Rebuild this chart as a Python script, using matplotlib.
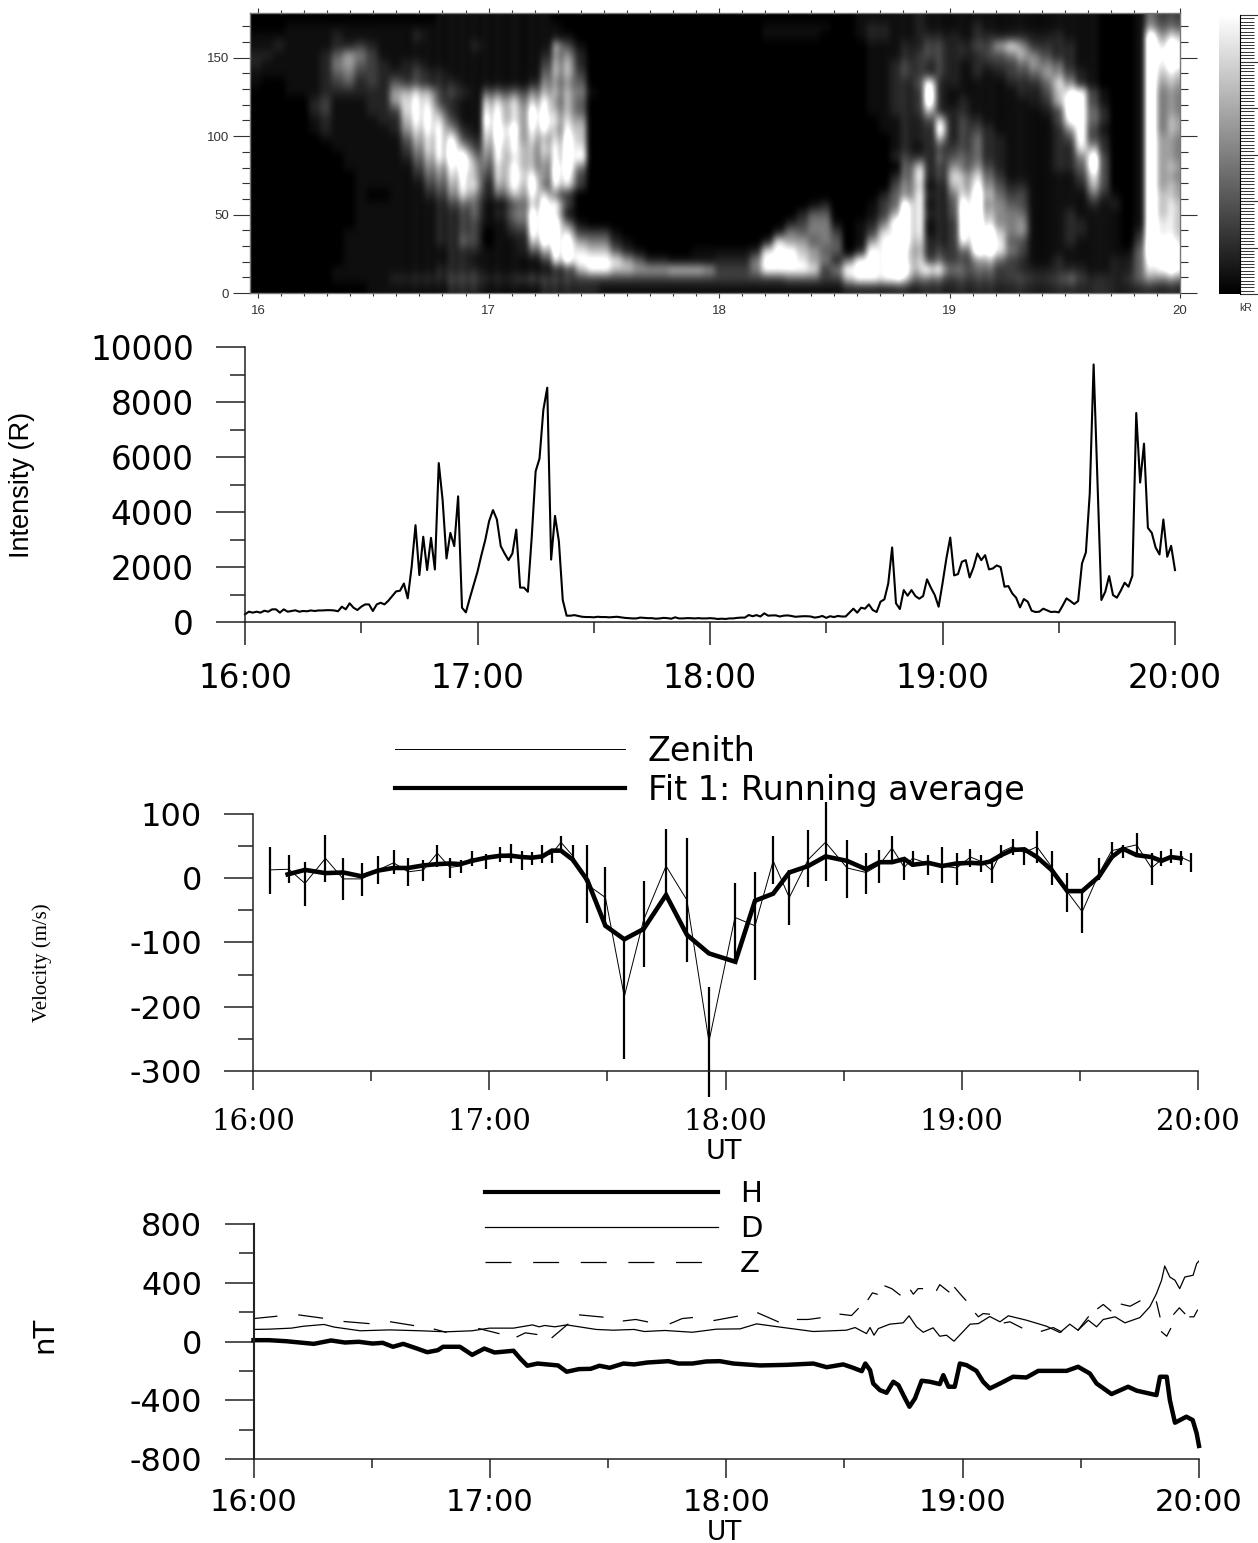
import numpy as np
import matplotlib
matplotlib.use("Agg")
import matplotlib.pyplot as plt
from matplotlib.colors import PowerNorm
from matplotlib.lines import Line2D
from matplotlib.ticker import MultipleLocator

plt.rcParams['axes.unicode_minus'] = False

W, H = 1258, 1543

# keogram brightness, 0-9, top row = 177 deg, columns run 16 -> 20 UT
keogram_rows = [
    "0000000000 0000001111 1111110000 0000000000 0000000000 0011111211 1111111111 1110001433",
    "0001111111 1111111111 1111111000 0000000000 0000111111 0012211211 1121111111 1110001544",
    "1111111211 1111211111 1111111100 0000000000 0000111110 0012211222 2122222222 1110001967",
    "1121111223 2111111112 1111116310 0000000000 0000000000 0001112233 2233785332 2110001989",
    "2211112465 3111111111 1111125520 0000000000 0000000000 0001112333 2223456642 2110001999",
    "2111112564 3212211111 1111136620 0000000000 0000000000 0001123323 2122334764 2110001989",
    "1111112453 3222322111 1111146630 0000000000 0000000000 0001123323 2121233575 3210001977",
    "1001112342 3243322211 1111255540 0000000000 0000000000 0001122482 2111122357 5210001966",
    "0001112222 2267763321 4444566651 0000000000 0000000000 0001122392 1111112246 8931001955",
    "0000023111 2268873211 7776785640 0000000000 0000000000 0001122392 1211111236 9931001955",
    "0000023111 2238885211 8877986640 0000000000 0000000000 0001122362 2211111123 9942001955",
    "0000012111 1227887311 9877997760 0000000000 0000000000 0000112237 2321111113 8942001956",
    "0000012111 1126788521 8997886870 0000000000 0000000000 0000112229 2332111112 5931001956",
    "0000001111 1114678832 7987767970 0000000000 0000000000 0000012226 2342211112 3932001965",
    "0000000111 1113578963 6888678980 0000000000 0000000000 0000012123 3342211112 2862001965",
    "0000000011 1112468995 5878668990 0000000000 0000000000 0000023324 4442211112 2593001965",
    "0000000011 1111356896 4788659950 0000000000 0000000000 0000004823 6453211112 2493001966",
    "0000000001 1111245786 3789859830 0000000000 0000000000 0000024923 8674311111 1373001965",
    "0000000001 1111134687 2688948730 0000000000 0000000000 0000035812 7685422111 1263001966",
    "0000000001 0011123575 2467874200 0000000000 0000000000 0000245922 5796533111 1142101976",
    "0000000001 1111112344 1135798300 0000000000 0000000012 0001349912 4995643111 1121201977",
    "0000000001 1111112234 1246997100 0000000000 0000000244 0001369922 4996654111 2111101977",
    "0000000001 1111112233 1135999410 0000000000 0000002355 1012599912 3997655111 2211101987",
    "0000000011 1111112233 0123999733 3100000000 0000025455 3013889912 3999855111 2211102987",
    "0000000011 1111112243 0112799965 5210000000 0000286645 4016999822 3899943111 2111103998",
    "0000000011 1111111222 1112469987 7421000011 1112899764 4029998723 3499953111 1111114999",
    "0000000011 1111111221 1111138999 9864221111 2225999865 2599998834 3356532112 1111224899",
    "0000000111 1111112222 1111112379 9776667776 3335999983 5999999888 5444332222 2211224799",
    "0000000111 1122222333 2223333333 3333333333 3333334443 3799997544 3333333333 4322234555",
    "0000000000 1111111222 1111122222 1111111111 1111111111 1222222222 2222222222 2222222222",
]
# vertical streaks seen across the keogram, half-column steps, 5 = unchanged
keogram_streaks = ("5555555555 5555555555 5555555474 7473747473 7374474373 7473745555 5555555555 5555555555 "
                   "5555555555 5555555555 5555555545 5674357573 4574575744 5575433457 5755577653 3456765575")
keo_xticks = [16, 17, 18, 19, 20]
keo_yticks = [0, 50, 100, 150]

# intensity, one value per minute from 16:00
intensity = [
    280, 375, 340, 375, 340, 410, 375, 460, 460, 340, 460, 375, 400, 425, 375, 400, 390, 420, 400, 420,
    420, 430, 430, 420, 390, 556, 460, 680, 520, 435, 556, 640, 640, 400, 640, 700, 640, 775, 944, 1113,
    1137, 1400, 860, 2000, 3520, 1706, 3100, 1890, 3060, 1910, 5780, 4430, 2310, 3240, 2760, 4570, 520, 350, 860, 1340,
    1830, 2430, 2980, 3670, 4070, 3730, 2760, 2490, 2250, 2490, 3360, 1250, 1250, 1100, 3100, 5480, 5940, 7720, 8520, 2270,
    3860, 2940, 800, 230, 230, 250, 220, 190, 180, 180, 170, 190, 180, 180, 170, 180, 190, 170, 150, 140,
    130, 130, 160, 150, 140, 140, 120, 130, 150, 140, 120, 170, 130, 130, 140, 140, 130, 140, 130, 130,
    140, 130, 110, 120, 110, 130, 130, 150, 160, 160, 254, 210, 250, 200, 315, 230, 240, 240, 200, 230,
    240, 220, 190, 200, 210, 210, 200, 160, 180, 220, 150, 210, 180, 220, 200, 200, 340, 484, 340, 520,
    484, 640, 435, 363, 738, 823, 1400, 2710, 678, 472, 1160, 956, 1160, 944, 847, 944, 1550, 1246, 980, 556,
    1400, 2310, 3070, 1694, 1742, 2190, 2250, 1620, 1984, 2490, 2250, 2430, 1912, 1948, 2057, 1996, 1283, 1307, 1040, 883,
    532, 835, 738, 411, 363, 375, 484, 423, 363, 375, 351, 593, 859, 762, 653, 762, 2130, 2529, 4670, 9365,
    5030, 800, 1100, 1670, 980, 883, 1137, 1428, 1283, 1682, 7600, 5070, 6485, 3424, 3243, 2710, 2456, 3727, 2372, 2771,
    1888,
]
int_yticks = [0, 2000, 4000, 6000, 8000, 10000]
time_ticks = [0, 60, 120, 180, 240]
time_labels = ['16:00', '17:00', '18:00', '19:00', '20:00']

# zenith velocity with its error bar ends (minutes after 16:00, m/s)
zen_t = [4.2, 9.1, 13.2, 18.4, 22.9, 27.6, 31.8, 35.7, 39.4, 43.3, 46.8, 50, 52.7, 55.5, 59.3, 62.8, 65.5, 68.2, 70.8,
         73.5, 75.9, 78.2, 81.2, 84.9, 89.5, 94.3, 99.2, 104.9, 110.2, 115.8, 122.4, 127.5, 132.1, 136.2, 141, 145.4,
         150.9, 155.7, 159.1, 162.3, 165.4, 167.5, 171.5, 175, 178.7, 182.2, 185, 187.7, 190, 192.9, 195.9, 199.1,
         202.8, 206.8, 210.6, 214.9, 218.1, 220.9, 224.4, 228.2, 230.7, 233.1, 235.6, 238.1]
zen_v = [13, 14, -8, 31, -1, -1, 13, 24, 10, 13, 39, 17, 19, 31, 30, 36, 38, 34, 33,
         36, 38, 56, 35, -10, -30, -184, -65, 19, -34, -254, -61, -74, 27, -30, 29, 56,
         16, 9, 21, 47, 17, 31, 23, 19, 16, 33, 26, 12, 41, 49, 40, 49,
         18, -21, -52, 8, 43, 47, 52, 16, 29, 33, 33, 26]
zen_top = [49, 36, 25, 68, 32, 23, 34, 44, 32, 29, 51, 31, 29, 43, 37, 48, 54, 43, 41,
           51, 44, 66, 51, 52, 17, -96, -4, 76, 62, -170, -8, 10, 65, 13, 75, 118,
           60, 40, 44, 66, 31, 43, 36, 48, 40, 46, 36, 29, 52, 61, 47, 73,
           43, 8, -18, 32, 56, 51, 70, 40, 43, 46, 43, 40]
zen_bot = [-24, -8, -43, -6, -34, -27, -9, 6, -12, -5, 17, 1, 8, 19, 14, 26, 24, 13, 21,
           23, 23, 41, 23, -70, -75, -282, -138, -23, -130, -341, -127, -158, -9, -73, -14, -5,
           -31, -24, -7, 27, -3, 18, 5, -8, -11, 18, 9, -8, 31, 36, 21, 24,
           -11, -52, -85, -3, 29, 31, 33, -10, 19, 23, 21, 10]
fit_t = [8.8, 13.2, 18.4, 22.9, 27.6, 31.8, 35.7, 39.4, 43.3, 46.8, 50, 52.7, 55.5, 59.3, 62.8, 65.5, 68.2, 70.8,
         73.5, 75.9, 78.2, 81.2, 84.9, 89.5, 94.3, 99.2, 104.9, 110.2, 115.8, 122.5, 127.5, 132.1, 136.2, 141, 145.4,
         150.9, 155.7, 159.1, 162.3, 165.4, 167.5, 171.5, 175, 178.7, 182.2, 185, 187.2, 190, 192.9, 195.9, 199.1,
         202.8, 206.8, 210.6, 214.9, 218.1, 220.9, 224.4, 228.2, 230.7, 233.1, 235.6]
fit_v = [6, 13, 8, 9, 3, 12, 16, 16, 20, 22, 23, 22, 27, 32, 35, 35, 33, 32,
         34, 43, 43, 29, -3, -74, -95, -79, -26, -88, -117, -130, -35, -24, 9, 19, 34,
         27, 14, 25, 25, 30, 21, 24, 19, 23, 24, 23, 26, 36, 44, 45, 33,
         13, -20, -20, 3, 33, 46, 36, 33, 27, 33, 31]
vel_yticks = [-300, -200, -100, 0, 100]

# magnetometer components (minutes after 16:00, nT)
h_t = [0, 3.9, 8.3, 11.8, 15.3, 19.7, 23.2, 26.7, 30.2, 32.8, 35.4, 38, 41.5, 44.1, 46.8, 48.1, 52.4, 55.5, 58.6, 61.2,
       66, 67.7, 69.5, 72.1, 77.3, 79.5, 82.6, 85.6, 87.8, 90.4, 93.9, 96.6, 100, 105.3, 107.9, 111.4, 114.9, 118.4, 121.8,
       128.6, 135.3, 142.1, 145.5, 149.7, 152.2, 154.4, 155.3, 156.5, 157.3, 159, 160.7, 162.4, 163.7, 165.4, 166.5, 167.9,
       169.6, 171.7, 174.2, 175.1, 176.4, 178, 179.3, 181, 183.5, 185.2, 186.9, 189.5, 192.8, 196.2, 199.2, 206.4, 209.3,
       212.3, 214, 217.8, 222, 224.2, 229.2, 230.1, 231.8, 232.6, 233.9, 236.8, 238.4, 239.4, 240]
h_v = [9, 9, 2, -7, -16, 7, -7, -2, -14, -9, -36, -16, -48, -73, -59, -36, -36, -91, -48, -75,
       -63, -116, -165, -150, -163, -206, -188, -186, -165, -179, -150, -156, -143, -134, -150, -150, -136, -134, -150,
       -163, -159, -150, -175, -156, -179, -202, -150, -195, -286, -331, -349, -274, -297, -388, -444, -388,
       -267, -274, -290, -229, -308, -308, -150, -161, -200, -274, -320, -286, -240, -245, -200, -200, -172,
       -218, -286, -358, -308, -335, -365, -240, -240, -399, -553, -512, -535, -625, -711]
d_t = [0, 3.9, 9.6, 12.7, 17.9, 20.5, 27.1, 34.5, 42.4, 48.9, 55.5, 59.9, 66, 70.8, 72.5, 73.9, 76.5, 79.5, 81.7, 87,
       91.3, 96.6, 99.2, 104.4, 111.4, 117.5, 123.5, 127.7, 134.5, 142.1, 150.5, 152.7, 155.6, 156.5, 157.5, 158.6, 161.5,
       164.9, 166.4, 168.3, 170, 172.5, 174.2, 175.9, 177.8, 181.9, 184, 186.9, 189.5, 191.6, 196.2, 201.3, 204.7, 207.2,
       209.3, 211.9, 214, 215.7, 218.7, 221.2, 225, 227.5, 229.2, 230.5, 231.3, 232.6, 233.9, 235.1, 236.4, 238.5, 239.4, 240]
d_v = [82, 84, 91, 104, 116, 98, 73, 79, 73, 66, 73, 91, 91, 113, 100, 109, 100, 113, 104, 82,
       77, 82, 68, 75, 63, 84, 86, 120, 95, 68, 77, 95, 54, 95, 43, 88, 118,
       127, 175, 100, 63, 93, 36, 43, 2, 118, 122, 170, 134, 175, 145, 104, 61, 118,
       77, 145, 100, 150, 168, 127, 163, 236, 326, 417, 514, 439, 417, 360, 439, 451, 530, 548]
nan = float('nan')
z_t = [0, 5.9, nan, 11.5, 17.5, nan, 23, 29.3, nan, 34.8, 40.6, nan, 45.9, 48.9, nan, 57.2, 62.3, nan, 66.9, 69, 71.9, nan,
       75.8, 79.8, nan, 82.8, 88.7, nan, 93.9, 97, 100, nan, 105.8, 108.8, 111.4, nan, 116.9, 122.8, nan, 128, 133.2, nan,
       138.1, 140.8, 143.8, nan, 148.9, 151.8, 153.5, nan, 156, 157.1, 158.3, nan, 160.3, 162, 164.1, nan,
       166.8, 167.5, 168.7, 169.8, nan, 173.4, 174.2, 176.5, nan, 178, 179.3, 180.8, nan, 183.3, 184, 185.2, 186.8, nan,
       190.6, 192, 195, nan, 200, 203, 205.1, nan, 209.3, 211.9, nan, 214.3, 215.7, 217.6, nan, 220.3, 222.5, 225, nan,
       229.2, 230.1, nan, 230.5, 231.8, 232.8, nan, 233.6, 235, 236.4, nan, 237.7, 238.7, 239.6]
z_v = [156, 172, nan, 181, 159, nan, 136, 122, nan, 134, 109, nan, 84, 63, nan, 88, 54, nan, 32, 59, 48, nan,
       27, 118, nan, 181, 166, nan, 140, 150, 134, nan, 122, 156, 163, nan, 143, 172, nan, 195, 134, nan,
       150, 150, 161, nan, 186, 177, 224, nan, 286, 331, 322, nan, 378, 360, 317, nan,
       349, 322, 360, 360, nan, 349, 387, 338, nan, 367, 326, 281, nan, 190, 168, 190, 186, nan,
       127, 134, 93, nan, 70, 95, 66, nan, 77, 168, nan, 224, 252, 209, nan, 254, 240, 276, nan,
       270, 168, nan, 66, 36, 88, nan, 186, 229, 190, nan, 168, 168, 213]
mag_yticks = [-800, -400, 0, 400, 800]


def px_axes(left, top, right, bottom):
    return fig.add_axes([left / W, 1 - bottom / H, (right - left) / W, (bottom - top) / H])


def px(n):
    return n * 72 / 100


def style_axes(ax, ymajor, yminor, ylen, xlen):
    for s in ['top', 'right']:
        ax.spines[s].set_visible(False)
    for s in ['left', 'bottom']:
        ax.spines[s].set_linewidth(1.1)
        ax.spines[s].set_color('#222222')
    ax.set_xlim(0, 240)
    ax.set_xticks(time_ticks)
    ax.xaxis.set_minor_locator(MultipleLocator(30))
    ax.yaxis.set_major_locator(MultipleLocator(ymajor))
    ax.yaxis.set_minor_locator(MultipleLocator(yminor))
    ax.tick_params(axis='y', which='major', length=px(ylen[0]), width=1.1, color='#222222')
    ax.tick_params(axis='y', which='minor', length=px(ylen[1]), width=1.1, color='#222222')
    ax.tick_params(axis='x', which='major', length=px(xlen[0]), width=1.1, color='#222222')
    ax.tick_params(axis='x', which='minor', length=px(xlen[1]), width=1.1, color='#222222')


fig = plt.figure(figsize=(W / 100, H / 100), dpi=100)

# keogram
keogram = np.array([[int(c) for c in r.replace(' ', '')] for r in keogram_rows], dtype=float)
streaks = 1 + (np.array([int(c) for c in keogram_streaks.replace(' ', '')]) - 5) * 0.1
keogram = np.repeat(keogram, 2, axis=1) * streaks
ax1 = px_axes(250, 13, 1180, 293)
ax1.imshow(keogram, cmap='gray', norm=PowerNorm(1.35, vmin=0, vmax=8.5), aspect='auto', interpolation='bicubic',
           extent=[15.965, 20, 0, 178.5])
ax1.set_xlim(15.965, 20)
ax1.set_ylim(0, 178.5)
ax1.set_xticks(keo_xticks)
ax1.set_yticks(keo_yticks)
ax1.xaxis.set_minor_locator(MultipleLocator(0.1))
ax1.yaxis.set_minor_locator(MultipleLocator(10))
ax1.tick_params(axis='both', which='both', colors='#333333', width=0.8)
ax1.tick_params(axis='y', which='major', left=True, right=True, length=px(17), labelsize=9.5, pad=3)
ax1.tick_params(axis='y', which='minor', left=True, right=True, length=px(8))
ax1.tick_params(axis='x', which='major', top=True, bottom=True, length=px(5), labelsize=9.5, pad=5)
ax1.tick_params(axis='x', which='minor', top=True, bottom=True, length=px(3))
for lab in ax1.get_xticklabels() + ax1.get_yticklabels():
    lab.set_family('Liberation Sans')
    lab.set_color('#333333')
for s in ax1.spines.values():
    s.set_color('#777777')
    s.set_linewidth(1.0)

# colour bar, no tick labels in the original
ax_cb = px_axes(1219, 15, 1240, 294)
ax_cb.imshow(np.linspace(1, 0, 256).reshape(-1, 1), cmap='gray', vmin=0, vmax=1, aspect='auto', extent=[0, 1, 0, 6])
ax_cb.set_xticks([])
ax_cb.yaxis.tick_right()
ax_cb.set_yticks(range(7))
ax_cb.set_yticklabels([])
ax_cb.yaxis.set_minor_locator(MultipleLocator(1 / 14))
ax_cb.tick_params(axis='y', which='major', length=px(24), width=0.8, color='#333333')
ax_cb.tick_params(axis='y', which='minor', length=px(14), width=0.7, color='#333333')
for s in ['top', 'left', 'bottom']:
    ax_cb.spines[s].set_visible(False)
ax_cb.spines['right'].set_linewidth(0.8)
fig.text(1246 / W, 1 - 308 / H, 'kR', fontsize=7.5, family='Liberation Sans', color='#333333', ha='center', va='center')

# intensity
ax2 = px_axes(245, 347, 1175, 622)
ax2.plot(np.arange(len(intensity)), intensity, color='black', lw=1.5, clip_on=False)
ax2.set_ylim(0, 10000)
style_axes(ax2, 2000, 1000, (29, 15), (23, 11))
ax2.set_yticks(int_yticks)
ax2.set_xticklabels(time_labels, fontsize=23.5)
ax2.tick_params(axis='y', labelsize=23.5, pad=16)
ax2.tick_params(axis='x', which='major', pad=12)
fig.text(22 / W, 1 - 485 / H, 'Intensity (R)', rotation=90, fontsize=19.5, family='Liberation Sans', ha='center', va='center')

# velocity
ax3 = px_axes(253, 814, 1198, 1071)
ax3.plot(zen_t, zen_v, color='black', lw=0.7)
ax3.vlines(zen_t, zen_bot, zen_top, color='black', lw=1.6, clip_on=False)
ax3.plot(fit_t, fit_v, color='black', lw=3.3, solid_joinstyle='miter')
ax3.set_ylim(-300, 100)
style_axes(ax3, 100, 50, (29, 15), (19, 10))
ax3.set_yticks(vel_yticks)
ax3.set_xticklabels(time_labels, fontsize=21, family='DejaVu Serif')
ax3.tick_params(axis='y', labelsize=23, pad=16)
ax3.tick_params(axis='x', which='major', pad=13)
fig.text(42 / W, 1 - 963 / H, 'Velocity (m/s)', rotation=90, fontsize=15, family='Liberation Serif', ha='center', va='center')
fig.text(724 / W, 1 - 1152 / H, 'UT', fontsize=19.5, ha='center', va='center')
vel_handles = [Line2D([], [], color='black', lw=0.7), Line2D([], [], color='black', lw=3)]
fig.legend(vel_handles, ['Zenith', 'Fit 1: Running average'], loc='upper left',
           bbox_to_anchor=(395 / W, 1 - 735 / H), frameon=False, fontsize=24, handlelength=6.9,
           handletextpad=0.68, labelspacing=0.17, borderpad=0, borderaxespad=0)

# magnetometer
ax4 = px_axes(253.5, 1224, 1199, 1459)
ax4.plot(h_t, h_v, color='black', lw=3.2, clip_on=False)
ax4.plot(d_t, d_v, color='black', lw=0.9)
ax4.plot(z_t, z_v, color='black', lw=0.9)
ax4.set_ylim(-800, 800)
style_axes(ax4, 400, 200, (29, 15), (19, 9))
ax4.set_yticks(mag_yticks)
ax4.set_xticklabels(time_labels, fontsize=22)
ax4.tick_params(axis='y', labelsize=23, pad=16)
ax4.tick_params(axis='x', which='major', pad=7)
ax4.spines['left'].set_linewidth(1.5)
fig.text(44 / W, 1 - 1335 / H, 'nT', rotation=90, fontsize=21, ha='center', va='center')
fig.text(724 / W, 1 - 1533 / H, 'UT', fontsize=19, ha='center', va='center')
mag_handles = [Line2D([], [], color='black', lw=3),
               Line2D([], [], color='black', lw=0.9),
               Line2D([], [], color='black', lw=0.9, linestyle=(0, (20.8, 17.3)))]
fig.legend(mag_handles, ['H', 'D', 'Z'], loc='upper left', bbox_to_anchor=(485 / W, 1 - 1180 / H),
           frameon=False, fontsize=21, handlelength=8.0, handletextpad=0.75, labelspacing=0.24,
           borderpad=0, borderaxespad=0)

fig.savefig('out.png', dpi=100)
